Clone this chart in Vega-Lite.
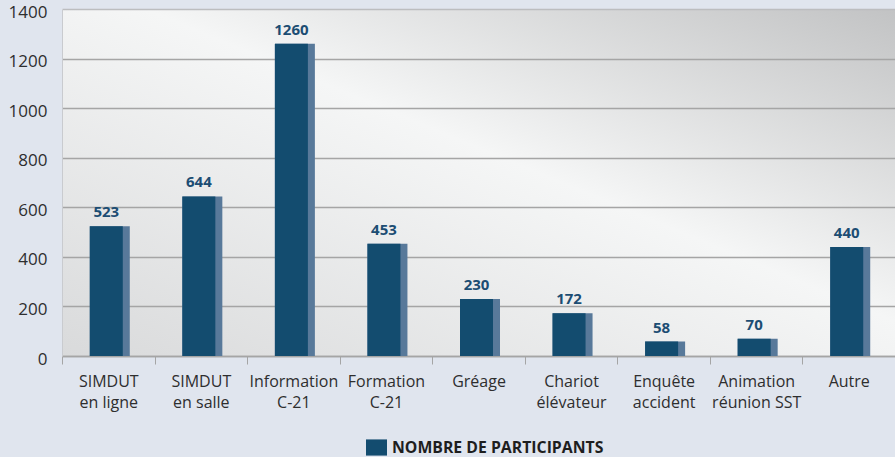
{
  "$schema": "https://vega.github.io/schema/vega-lite/v6.json",
  "width": 833,
  "height": 347,
  "autosize": "none",
  "padding": {"left": 62, "top": 9, "right": 0, "bottom": 101},
  "background": "#e0e5ee",
  "config": {
    "font": "Open Sans",
    "view": {
      "stroke": null,
      "fill": {
        "gradient": "linear",
        "x1": 0, "y1": 1, "x2": 1, "y2": 0,
        "stops": [
          {"offset": 0, "color": "#d9dadb"},
          {"offset": 0.55, "color": "#f5f6f6"},
          {"offset": 1, "color": "#c2c3c4"}
        ]
      }
    }
  },
  "data": {
    "values": [
      {"cat": "SIMDUT|en ligne", "n": 523, "serie": "NOMBRE DE PARTICIPANTS"},
      {"cat": "SIMDUT|en salle", "n": 644, "serie": "NOMBRE DE PARTICIPANTS"},
      {"cat": "Information|C-21", "n": 1260, "serie": "NOMBRE DE PARTICIPANTS"},
      {"cat": "Formation|C-21", "n": 453, "serie": "NOMBRE DE PARTICIPANTS"},
      {"cat": "Gréage", "n": 230, "serie": "NOMBRE DE PARTICIPANTS"},
      {"cat": "Chariot|élévateur", "n": 172, "serie": "NOMBRE DE PARTICIPANTS"},
      {"cat": "Enquête|accident", "n": 58, "serie": "NOMBRE DE PARTICIPANTS"},
      {"cat": "Animation|réunion SST", "n": 70, "serie": "NOMBRE DE PARTICIPANTS"},
      {"cat": "Autre", "n": 440, "serie": "NOMBRE DE PARTICIPANTS"}
    ]
  },
  "encoding": {
    "x": {
      "field": "cat",
      "type": "nominal",
      "sort": null,
      "scale": {"paddingInner": 0, "paddingOuter": 0},
      "axis": {
        "title": null,
        "labelAngle": 0,
        "labelExpr": "split(datum.label, '|')",
        "labelFont": "Open Sans",
        "labelFontSize": 16,
        "labelColor": "#2e2e2e",
        "labelLineHeight": 21.5,
        "labelPadding": 9,
        "labelLimit": 200,
        "tickBand": "extent",
        "tickSize": 8,
        "tickColor": "#a5a5a5",
        "tickWidth": 1,
        "domainColor": "#a5a5a5",
        "domainWidth": 1.5,
        "grid": false
      }
    },
    "y": {
      "field": "n",
      "type": "quantitative",
      "scale": {"domain": [0, 1400]},
      "axis": {
        "title": null,
        "values": [0, 200, 400, 600, 800, 1000, 1200, 1400],
        "format": "d",
        "labelFont": "Open Sans",
        "labelFontSize": 17,
        "labelColor": "#2e2e2e",
        "labelPadding": 15,
        "labelOffset": 3,
        "ticks": false,
        "tickSize": 0,
        "domainColor": "#c9cbcf",
        "domainWidth": 1,
        "grid": true,
        "gridColor": {"condition": {"test": "datum.value === 1400", "value": "#bcbdbf"}, "value": "#a5a5a5"},
        "gridWidth": 1.5
      }
    }
  },
  "layer": [
    {
      "mark": {"type": "bar", "width": 40, "xOffset": 1.5, "color": "#58799a"}
    },
    {
      "mark": {"type": "bar", "width": 33, "xOffset": -2},
      "encoding": {
        "color": {
          "field": "serie",
          "type": "nominal",
          "scale": {"range": ["#134c6f"]},
          "legend": {
            "title": null,
            "orient": "none",
            "legendX": 304,
            "legendY": 428,
            "symbolType": "M-1,-0.77H1V0.77H-1Z",
            "symbolSize": 441,
            "symbolStrokeWidth": 0,
            "symbolOpacity": 1,
            "labelFont": "Open Sans",
            "labelFontSize": 15.8,
            "labelFontWeight": "bold",
            "labelColor": "#1e1e1e",
            "labelOffset": 5,
            "labelLimit": 400
          }
        }
      }
    },
    {
      "mark": {"type": "text", "xOffset": -2, "dy": -9, "baseline": "alphabetic", "font": "Open Sans", "fontSize": 15, "fontWeight": "bold", "color": "#1c4d73"},
      "encoding": {"text": {"field": "n", "type": "quantitative"}}
    }
  ]
}
